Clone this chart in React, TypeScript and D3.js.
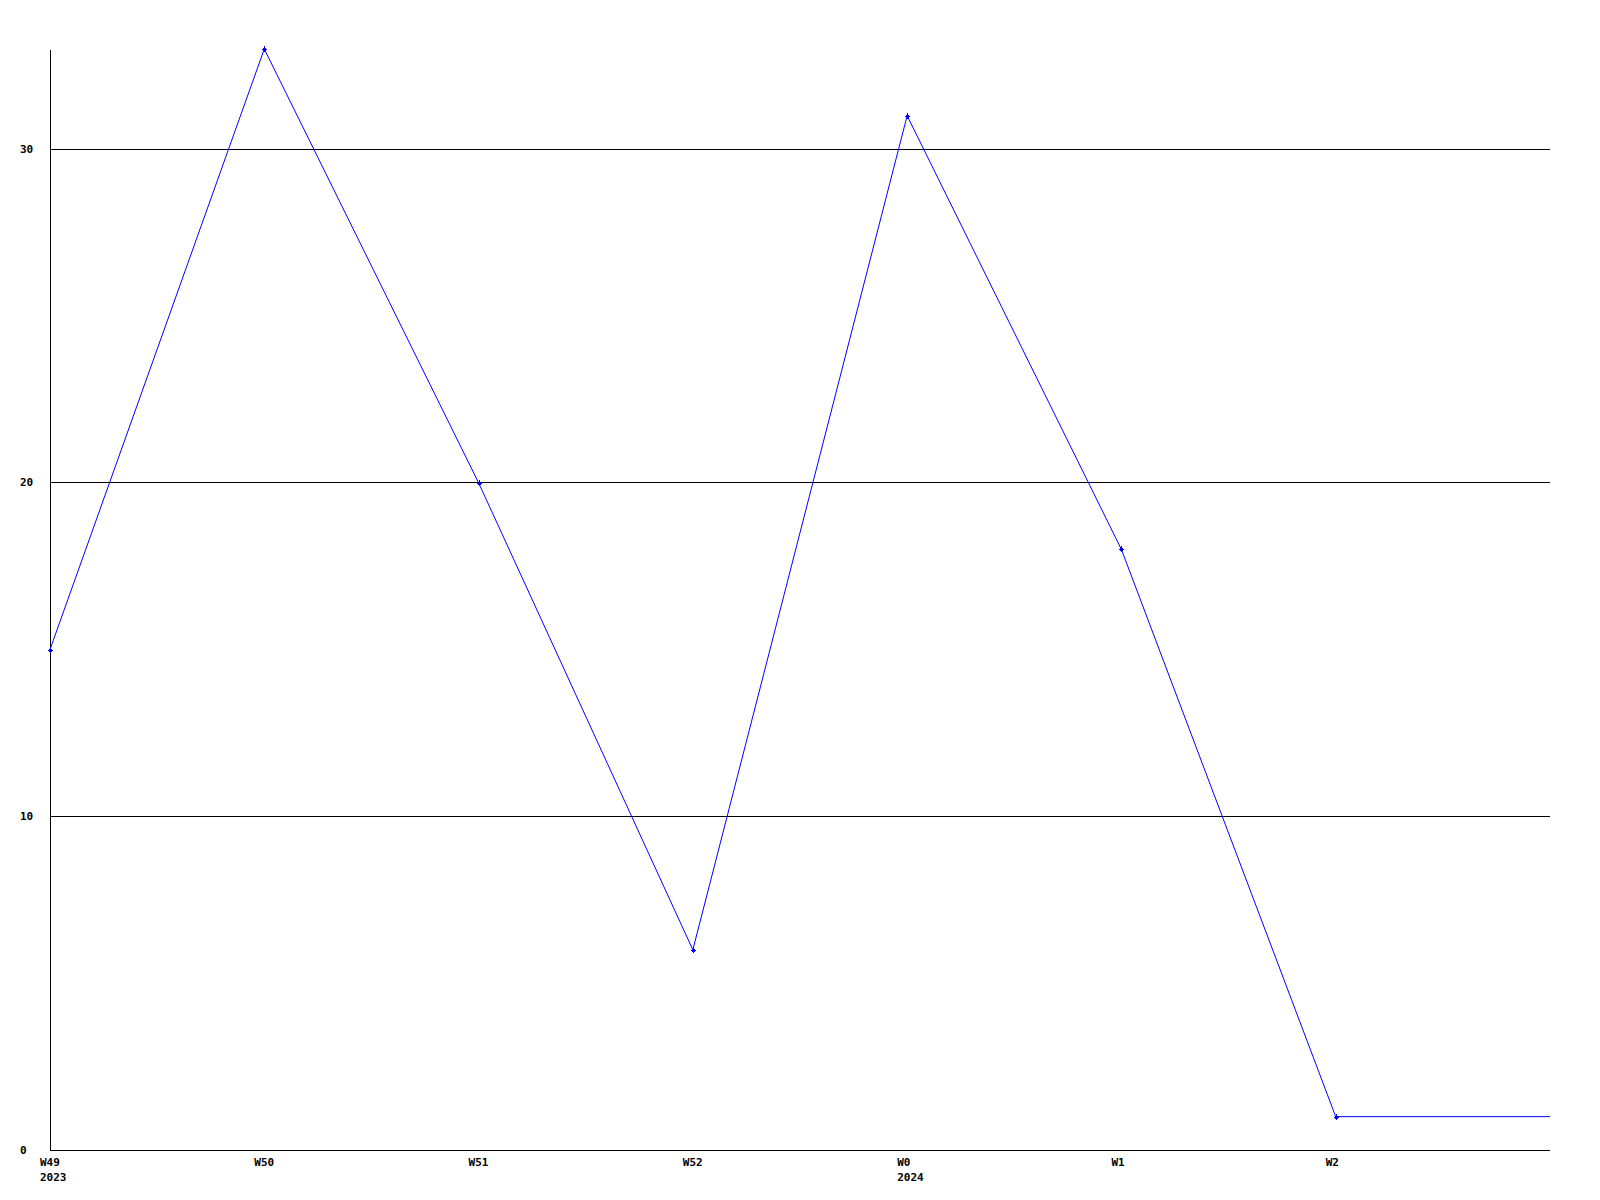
import React from "react";
import * as d3 from "d3";

const weeks = ["W49", "W50", "W51", "W52", "W0", "W1", "W2"];
const years = ["2023", "", "", "", "2024", "", ""];
const values = [15, 33, 20, 6, 31, 18, 1];
const yTicks = [0, 10, 20, 30];

const W = 1600;
const H = 1200;
const left = 50;
const right = 1550;
const top = 49;
const bottom = 1150;

export default function App() {
  const x = d3.scaleLinear().domain([0, weeks.length]).range([left, right]);
  const y = d3.scaleLinear().domain([0, 33]).range([bottom, top]);

  const pts: [number, number][] = values.map((v, i) => [x(i), y(v)]);
  const ext: [number, number][] = [...pts, [x(weeks.length), y(values[values.length - 1])]];
  const line = d3.line<[number, number]>().x((d) => d[0]).y((d) => d[1]);

  const font = "'DejaVu Sans Mono', 'Liberation Mono', monospace";

  return (
    <svg
      width={W}
      height={H}
      style={{ position: "absolute", left: 0, top: 0, background: "#fff" }}
      shapeRendering="crispEdges"
    >
      <rect x={0} y={0} width={W} height={H} fill="#fff" />
      {yTicks.filter((t) => t > 0).map((t) => (
        <line key={t} x1={left} x2={right} y1={Math.floor(y(t)) + 0.5} y2={Math.floor(y(t)) + 0.5} stroke="#000" strokeWidth={1} />
      ))}
      <line x1={left + 0.5} x2={left + 0.5} y1={top + 1} y2={bottom} stroke="#000" strokeWidth={1} />
      <line x1={left} x2={right} y1={bottom + 0.5} y2={bottom + 0.5} stroke="#000" strokeWidth={1} />
      {yTicks.map((t) => (
        <text
          key={"yl" + t}
          x={20}
          y={Math.floor(y(t)) + 4}
          fontFamily={font}
          fontWeight="bold"
          fontSize={11}
          fill="#000"
        >
          {t}
        </text>
      ))}
      {weeks.map((w, i) => (
        <g key={"xl" + w}>
          <text x={x(i) - 10} y={1166} fontFamily={font} fontWeight="bold" fontSize={11} fill="#000">
            {w}
          </text>
          {years[i] ? (
            <text x={x(i) - 10} y={1181} fontFamily={font} fontWeight="bold" fontSize={11} fill="#000">
              {years[i]}
            </text>
          ) : null}
        </g>
      ))}
      <path d={line(ext) || ""} fill="none" stroke="#0000ff" strokeWidth={1} shapeRendering="auto" />
      {pts.map(([px, py], i) => (
        <g key={"m" + i} stroke="#0000ff" strokeWidth={1}>
          <line x1={px - 2} x2={px + 3} y1={Math.round(py) + 0.5} y2={Math.round(py) + 0.5} />
          <line x1={Math.round(px) + 0.5} x2={Math.round(px) + 0.5} y1={py - 3} y2={py + 3} />
          <rect x={Math.round(px) - 1} y={Math.round(py) - 1} width={3} height={3} fill="#0000ff" stroke="none" />
        </g>
      ))}
    </svg>
  );
}
